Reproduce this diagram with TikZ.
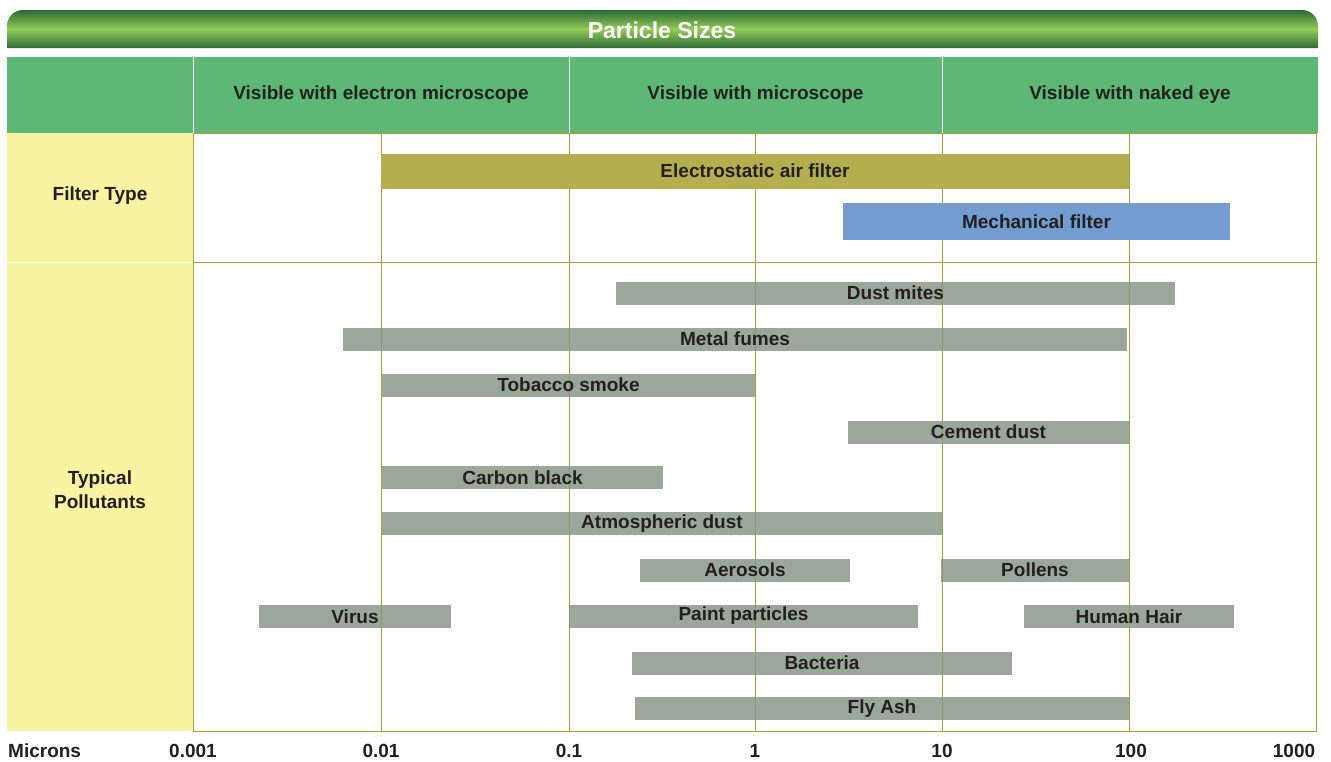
\documentclass[tikz,border=0pt]{standalone}
\usepackage{fontspec}
\setmainfont{Liberation Sans}
\definecolor{ink}{HTML}{231F20}
\definecolor{banddark}{HTML}{2B6A34}
\definecolor{bandlight}{HTML}{93CC58}
\definecolor{headgreen}{HTML}{5CB874}
\definecolor{paleyellow}{HTML}{F7F5A2}
\definecolor{gridolive}{HTML}{A5A23A}
\definecolor{olivebar}{HTML}{B5AE4E}
\definecolor{bluebar}{HTML}{739CD0}
\definecolor{greybar}{RGB}{131,146,130}

\begin{document}
\begin{tikzpicture}[x=1pt,y=-1pt,
    lbl/.style={font=\fontsize{19}{24}\selectfont\bfseries,text=ink,inner sep=0pt},
    bar/.style={lbl,minimum height=23pt,fill=greybar,fill opacity=0.8,text opacity=1},
    filter/.style={lbl,minimum height=35pt},
    gridline/.style={draw=gridolive,line width=1pt}]
  \useasboundingbox (0,0) rectangle (1331,761);
  \shade[top color=banddark,bottom color=banddark,middle color=bandlight]
    (7,48) [rounded corners=16pt] -- (7,10) -- (1318,10) [sharp corners] -- (1318,48) -- cycle;
  \node[lbl,text=white,font=\fontsize{23}{26}\selectfont\bfseries] (title) at (662,30) {Particle Sizes};

  \fill[headgreen] (7,57) rectangle (1318,133);
  \fill[paleyellow] (7,133) rectangle (193,731);
  \draw[gridline,fill=white] (193,133) rectangle (1316,731);
  \draw[white,line width=1pt] (193,57) -- (193,133) (569,57) -- (569,133) (942,57) -- (942,133);
  \draw[white,line width=1pt] (7,262) -- (193,262);
  \draw[gridline] (193,262) -- (1316,262);
  \foreach \x in {381,569,755,942,1129}
    \draw[gridline] (\x,133) -- (\x,731);

  \node[lbl] (electron) at (381,95) {Visible with electron microscope};
  \node[lbl] (micro) at (755.5,95) {Visible with microscope};
  \node[lbl] (naked) at (1130,95) {Visible with naked eye};

  \node[lbl] (ftype) at (100,196) {Filter Type};
  \node[lbl,align=center] (typical) at (100,490) {Typical\\Pollutants};

  \node[filter,fill=olivebar,minimum width=748pt] (electro) at (755,171) {Electrostatic air filter};
  \node[filter,fill=bluebar,minimum width=387pt,minimum height=37pt] (mech) at (1036.5,221.5) {Mechanical filter};

  \node[bar,minimum width=559pt] (mites) at (895.5,293) {Dust mites};
  \node[bar,minimum width=784pt] (fumes) at (735,339) {Metal fumes};
  \node[bar,minimum width=373pt] (tobacco) at (568.5,385) {Tobacco smoke};
  \node[bar,minimum width=281pt] (cement) at (988.5,432) {Cement dust};
  \node[bar,minimum width=281pt] (carbon) at (522.5,477.5) {Carbon black};
  \node[bar,minimum width=560pt] (atmos) at (662,523.5) {Atmospheric dust};
  \node[bar,minimum width=210pt] (aerosols) at (745,570) {Aerosols};
  \node[bar,minimum width=188pt] (pollens) at (1035,570) {Pollens};
  \node[bar,minimum width=192pt] (virus) at (355,616.5) {Virus};
  \node[bar,minimum width=349pt] (paint) at (743.5,616) {Paint particles};
  \node[bar,minimum width=210pt] (hair) at (1129,616.5) {Human Hair};
  \node[bar,minimum width=380pt] (bacteria) at (822,663) {Bacteria};
  \node[bar,minimum width=494pt] (flyash) at (882,708.5) {Fly Ash};

  \node[lbl,anchor=west] (microns) at (8,751) {Microns};
  \foreach \x/\v [count=\i] in {193/0.001,381/0.01,569/0.1,755/1,942/10,1131/100,1294/1000}
    \node[lbl] (tick\i) at (\x,751) {\v};
\end{tikzpicture}
\end{document}
